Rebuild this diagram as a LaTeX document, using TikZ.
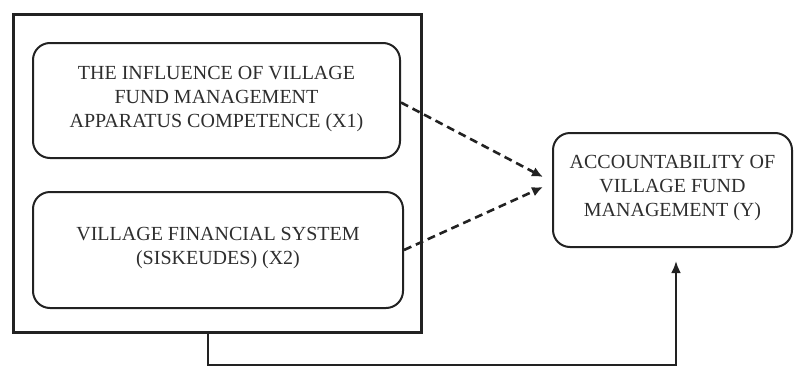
\documentclass[tikz,border=0pt]{standalone}
\usepackage{fontspec}
\setmainfont{Liberation Serif}
\usetikzlibrary{arrows.meta}
\definecolor{ink}{HTML}{222222}
\definecolor{txt}{HTML}{2E2E2E}
\tikzset{
  rbox/.style={draw=ink, line width=2pt, rounded corners=17pt, align=center, text=txt,
    font=\fontsize{20}{24}\selectfont, inner sep=0pt},
  outerbox/.style={draw=ink, line width=3pt, inner sep=0pt},
  dasharrow/.style={draw=ink, line width=2.6pt, dash pattern=on 8pt off 5pt, -{Latex[length=11pt,width=10pt]}},
  solidarrow/.style={draw=ink, line width=2.8pt, -{Latex[length=12pt,width=10pt]}},
}
\begin{document}
\begin{tikzpicture}[x=1pt,y=-1pt]
\useasboundingbox (0,0) rectangle (794,367);
\node[outerbox, minimum width=408pt, minimum height=318pt] (outer) at (217,173) {};
\node[rbox, minimum width=367pt, minimum height=115pt, text depth=8pt] (x1) at (216.5,100.5)
  {THE INFLUENCE OF VILLAGE\\FUND MANAGEMENT\\APPARATUS COMPETENCE (X1)};
\node[rbox, minimum width=370pt, minimum height=116pt, text depth=8pt] (x2) at (218,250)
  {VILLAGE FINANCIAL SYSTEM\\(SISKEUDES) (X2)};
\node[rbox, minimum width=239pt, minimum height=114pt, text depth=8pt] (y) at (672.5,190)
  {ACCOUNTABILITY OF\\VILLAGE FUND\\MANAGEMENT (Y)};
\coordinate (t1) at (543,177);
\coordinate (t2) at (543,187);
\draw[dasharrow] (x1.east) ++(0,2) -- (t1);
\draw[dasharrow] (x2.east) -- (t2);
\coordinate (b0) at (208,332);
\coordinate (b1) at (208,365);
\coordinate (b2) at (676,365);
\coordinate (b3) at (676,261);
\draw[solidarrow] (b0) -- (b1) -- (b2) -- (b3);
\end{tikzpicture}
\end{document}
